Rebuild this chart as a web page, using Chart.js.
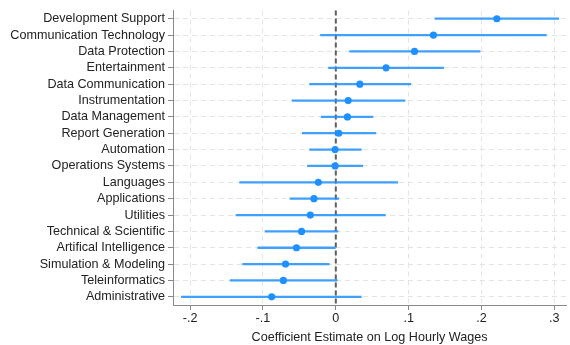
<!DOCTYPE html>
<html>
<head>
<meta charset="utf-8">
<script src="https://cdn.jsdelivr.net/npm/chart.js@4/dist/chart.umd.min.js"></script>
<style>
  html, body { margin: 0; padding: 0; background: #fff; }
  #wrap { width: 570px; height: 345px; }
</style>
</head>
<body>
<div id="wrap"><canvas id="c" width="570" height="345"></canvas></div>
<script>
// Software categories, top to bottom
const categories = [
  'Development Support', 'Communication Technology', 'Data Protection', 'Entertainment',
  'Data Communication', 'Instrumentation', 'Data Management', 'Report Generation',
  'Automation', 'Operations Systems', 'Languages', 'Applications', 'Utilities',
  'Technical & Scientific', 'Artifical Intelligence', 'Simulation & Modeling',
  'Teleinformatics', 'Administrative'
];

// Point estimates
const estimates = [
  0.221, 0.134, 0.108, 0.069, 0.033, 0.017, 0.016, 0.004, -0.001, -0.001,
  -0.024, -0.030, -0.035, -0.047, -0.054, -0.069, -0.072, -0.088
];

// Confidence interval bounds
const ciLow = [
  0.136, -0.021, 0.019, -0.010, -0.036, -0.060, -0.020, -0.046, -0.036, -0.039,
  -0.132, -0.063, -0.137, -0.097, -0.107, -0.128, -0.145, -0.212
];
const ciHigh = [
  0.306, 0.289, 0.198, 0.148, 0.103, 0.095, 0.051, 0.055, 0.035, 0.037,
  0.085, 0.004, 0.068, 0.003, -0.001, -0.009, 0.002, 0.035
];

// Axis ticks and labels
const xTickValues = [-0.2, -0.1, 0, 0.1, 0.2, 0.3];
const xTickLabels = ['-.2', '-.1', '0', '.1', '.2', '.3'];
const xTitle = 'Coefficient Estimate on Log Hourly Wages';

const BLUE = 'rgb(30,144,255)';
const FONT = 'Liberation Sans, Arial, sans-serif';

// Dashed reference line at zero, drawn with the x scale
const zeroLine = {
  id: 'zeroLine',
  beforeDatasetsDraw(chart) {
    const { ctx, chartArea, scales } = chart;
    const x = scales.x.getPixelForValue(0);
    ctx.save();
    ctx.strokeStyle = '#5f5f5f';
    ctx.lineWidth = 2;
    ctx.setLineDash([5, 3]);
    ctx.beginPath();
    ctx.moveTo(x, chartArea.top);
    ctx.lineTo(x, chartArea.bottom);
    ctx.stroke();
    ctx.restore();
  }
};

new Chart(document.getElementById('c'), {
  type: 'bar',
  data: {
    labels: categories,
    datasets: [
      {
        type: 'line',
        label: 'Estimate',
        data: estimates.map((v, i) => ({ x: v, y: categories[i] })),
        showLine: false,
        pointRadius: 3.6,
        pointBackgroundColor: BLUE,
        pointBorderWidth: 0,
        pointBorderColor: BLUE,
        xAxisID: 'x',
        yAxisID: 'y',
        order: 0
      },
      {
        label: 'CI',
        data: ciLow.map((lo, i) => [lo, ciHigh[i]]),
        backgroundColor: 'rgba(30,144,255,0.85)',
        borderWidth: 0,
        barThickness: 1.6,
        xAxisID: 'x',
        yAxisID: 'y',
        order: 1
      }
    ]
  },
  options: {
    indexAxis: 'y',
    responsive: false,
    animation: false,
    devicePixelRatio: 1,
    layout: { padding: { top: 8, right: 2, left: 0, bottom: 0 } },
    plugins: { legend: { display: false }, tooltip: { enabled: false } },
    scales: {
      x: {
        type: 'linear',
        min: -0.2235,
        max: 0.316,
        afterBuildTicks: (s) => { s.ticks = xTickValues.map(v => ({ value: v })); },
        afterFit: (s) => { s.height = 40; },
        ticks: {
          autoSkip: false,
          maxRotation: 0,
          padding: 1,
          color: '#222',
          font: { family: FONT, size: 12.6 },
          callback: (v) => {
            const i = xTickValues.findIndex(t => Math.abs(t - v) < 1e-9);
            return i >= 0 ? xTickLabels[i] : '';
          }
        },
        grid: {
          color: '#e4e4e4',
          lineWidth: 1,
          tickColor: '#888',
          tickLength: 5,
          tickBorderDash: []
        },
        border: { display: true, color: '#8a8a8a', width: 1, dash: [5, 4] },
        title: {
          display: true,
          text: xTitle,
          color: '#222',
          padding: { top: 2, bottom: 0 },
          font: { family: FONT, size: 12.6 }
        }
      },
      y: {
        type: 'category',
        offset: true,
        afterFit: (s) => { s.width = 173; },
        ticks: {
          autoSkip: false,
          padding: 3,
          color: '#222',
          font: { family: FONT, size: 12.6 }
        },
        grid: {
          offset: false,
          color: '#e4e4e4',
          lineWidth: 1,
          tickColor: '#888',
          tickLength: 5,
          tickBorderDash: []
        },
        border: { display: true, color: '#8a8a8a', width: 1, dash: [5, 4] }
      }
    }
  },
  plugins: [zeroLine]
});
</script>
</body>
</html>
